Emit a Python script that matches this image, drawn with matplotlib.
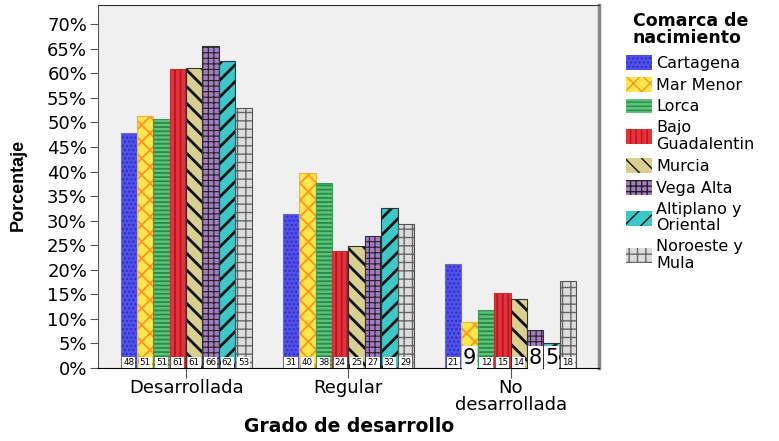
import numpy as np
import matplotlib.pyplot as plt

plt.rcParams['font.family'] = ['DejaVu Sans']

grados = ['Desarrollada', 'Regular', 'No\ndesarrollada']
comarcas = ['Cartagena', 'Mar Menor', 'Lorca', 'Bajo\nGuadalentin', 'Murcia',
            'Vega Alta', 'Altiplano y\nOriental', 'Noroeste y\nMula']

# porcentaje por comarca (filas) y grado (columnas)
pct = [
    [47.8, 31.4, 21.1],
    [51.2, 39.6, 9.3],
    [50.7, 37.7, 11.9],
    [60.9, 23.9, 15.3],
    [61.1, 24.9, 14.1],
    [65.6, 26.9, 7.7],
    [62.5, 32.6, 5.0],
    [53.0, 29.3, 17.8],
]
# recuentos
n = [
    [48, 31, 21],
    [51, 40, 9],
    [51, 38, 12],
    [61, 24, 15],
    [61, 25, 14],
    [66, 27, 8],
    [62, 32, 5],
    [53, 29, 18],
]

caras = ['#5050ee', '#ffe64a', '#5cc47a', '#e8303a', '#d8cf90', '#a47cc4', '#3cc8c8', '#dcdcdc']
rayas = ['#2f2fb0', '#ff9420', '#2a8a46', '#b01822', '#111111', '#222222', '#111111', '#666666']
bordes = ['#6a6ab8', '#f0b040', '#3a9a58', '#c03038', '#333333', '#333333', '#333333', '#555555']
tramas = ['....', 'xx', '----', '|||', '\\\\', '+++', '//', '++']
grosor = [1.0, 1.3, 1.3, 1.3, 2.0, 0.8, 2.0, 1.0]

fig = plt.figure(figsize=(7.79, 4.41), dpi=100)
ax = fig.add_axes([0.126, 0.1655, 0.643, 0.8232])
ax.set_facecolor('#f0f0f0')

x = np.arange(len(grados))
w = 0.101
for i in range(len(comarcas)):
    pos = x + (i - 3.5) * w
    with plt.rc_context({'hatch.linewidth': grosor[i]}):
        barras = ax.bar(pos, pct[i], w, color=caras[i], edgecolor=rayas[i], hatch=tramas[i],
                        linewidth=0, label=comarcas[i], zorder=2)
        for b in barras:
            if hasattr(b, 'set_hatch_linewidth'):
                b.set_hatch_linewidth(grosor[i])
    ax.bar(pos, pct[i], w, fill=False, edgecolor=bordes[i], linewidth=0.8, zorder=3)
    for j in range(len(grados)):
        v = n[i][j]
        if v < 10:
            ax.text(pos[j], 0.1, str(v), ha='center', va='bottom', fontsize=15,
                    zorder=5, bbox=dict(boxstyle='square,pad=0.05', fc='white', ec='none'))
        else:
            ax.text(pos[j], 0.2, str(v), ha='center', va='bottom', fontsize=6.3,
                    zorder=5, bbox=dict(boxstyle='square,pad=0.12', fc='white', ec='none'))

ax.set_xlim(-0.542, 2.545)
ax.set_ylim(0, 73.9)
ax.set_yticks(np.arange(0, 71, 5))
ax.set_yticklabels([f'{t}%' for t in range(0, 71, 5)], fontsize=13)
ax.set_xticks(x)
ax.set_xticklabels(grados, fontsize=13, linespacing=0.9)
ax.tick_params(axis='y', length=6, color='#555555', pad=2)
ax.tick_params(axis='x', length=7, color='#555555', pad=1)
ax.spines['left'].set_color('#555555')
ax.spines['bottom'].set_color('#000000')
ax.spines['top'].set_color('#333333')
ax.spines['right'].set_color('#888888')
ax.spines['right'].set_linewidth(2.5)

ax.set_xlabel('Grado de desarrollo', fontsize=13.5, fontweight='bold', labelpad=2)
fig.text(0.024, 0.58, 'Porcentaje', rotation=90, ha='center', va='center', fontsize=13,
         fontweight='bold', family=['Liberation Sans Narrow', 'Liberation Sans'])

leg = fig.legend(loc='upper left', bbox_to_anchor=(0.785, 1.005), frameon=False,
                 title='Comarca de\nnacimiento', fontsize=11.5, handlelength=1.65,
                 handleheight=1.05, handletextpad=0.25, labelspacing=0.37)
leg.get_title().set_fontweight('bold')
leg.get_title().set_fontsize(12.5)
leg.get_title().set_linespacing(0.9)
for t in leg.get_texts():
    t.set_linespacing(1.15)
leg._legend_box.sep = 6

fig.savefig('out.png', dpi=100)
